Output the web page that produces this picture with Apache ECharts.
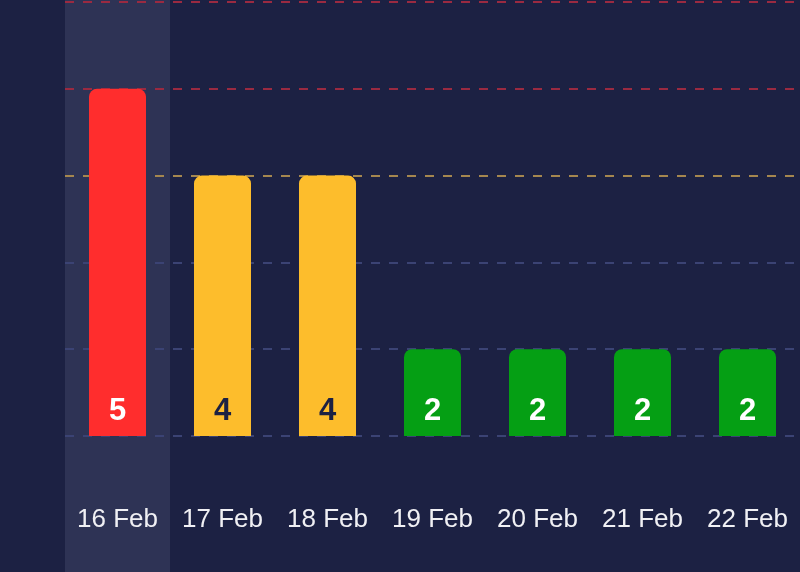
<!DOCTYPE html>
<html>
<head>
<meta charset="utf-8">
<script src="https://cdn.jsdelivr.net/npm/echarts@6/dist/echarts.min.js"></script>
<style>
html,body{margin:0;padding:0;background:#1c2143;}
#chart{width:800px;height:572px;}
</style>
</head>
<body>
<div id="chart"></div>
<script>
const categories = ['16 Feb','17 Feb','18 Feb','19 Feb','20 Feb','21 Feb','22 Feb'];
const values = [5,4,4,2,2,2,2];
const barColors = ['#ff2d2d','#fdbd2c','#fdbd2c','#059f14','#059f14','#059f14','#059f14'];
const labelColors = ['#ffffff','#1c2143','#1c2143','#ffffff','#ffffff','#ffffff','#ffffff'];
const yTicks = {min:1, max:6, interval:1};
const gridLineColors = ['#3b4374','#3b4374','#3b4374','#a5874f','#9a2a41','#9a2a41'];
const highlightIndex = 0;

const bandColors = categories.map((c,i)=> i===highlightIndex ? '#2e3355' : 'rgba(0,0,0,0)');

const chart = echarts.init(document.getElementById('chart'));
chart.setOption({
  backgroundColor:'#1c2143',
  animation:false,
  grid:[
    {left:65,right:0,top:0,bottom:0},
    {left:65,right:0,top:2,bottom:136}
  ],
  xAxis:[
    {gridIndex:0,type:'category',data:categories,boundaryGap:true,z:-1,
     axisLine:{show:false},axisTick:{show:false},axisLabel:{show:false},
     splitLine:{show:false},
     splitArea:{show:true,interval:0,areaStyle:{color:bandColors}}},
    {gridIndex:1,type:'category',data:categories,
     axisLine:{show:false},axisTick:{show:false},
     axisLabel:{color:'#f0f0f4',fontSize:26,fontFamily:'Liberation Sans, Arial, sans-serif',margin:71,interval:0}}
  ],
  yAxis:[
    {gridIndex:0,type:'value',show:false,min:0,max:1,z:-1},
    {gridIndex:1,type:'value',min:yTicks.min,max:yTicks.max,interval:yTicks.interval,z:1,
     axisLabel:{show:false},axisLine:{show:false},axisTick:{show:false},
     splitLine:{show:true,lineStyle:{color:gridLineColors,width:2,type:[9,9]}}}
  ],
  series:[
    {type:'bar',xAxisIndex:1,yAxisIndex:1,barWidth:57,z:2,
     data:values.map((v,i)=>({value:v,itemStyle:{color:barColors[i],borderRadius:[8,8,0,0]},
       label:{color:labelColors[i]}})),
     label:{show:true,position:'insideBottom',distance:9,fontSize:31,fontWeight:'bold',
       fontFamily:'Liberation Sans, Arial, sans-serif'}}
  ]
});
</script>
</body>
</html>
